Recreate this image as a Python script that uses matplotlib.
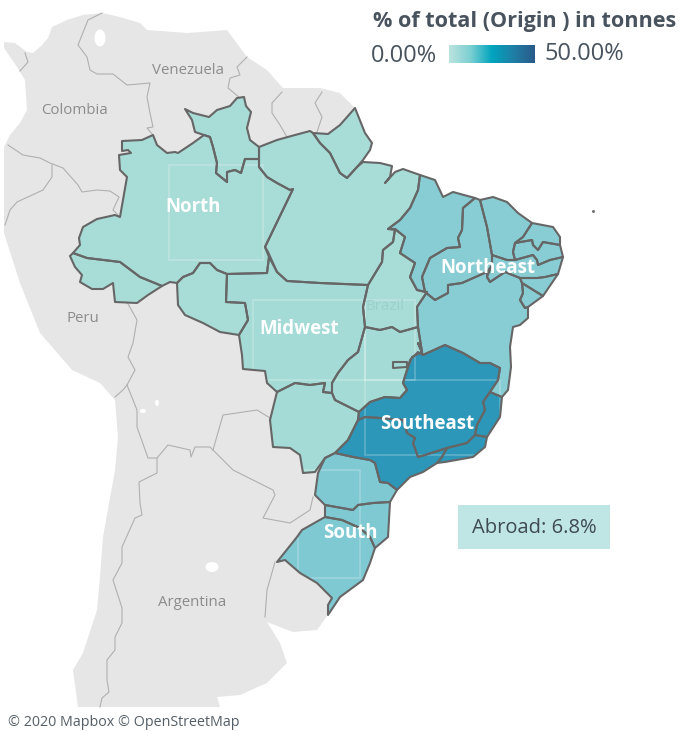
import matplotlib
matplotlib.use("Agg")
import matplotlib.pyplot as plt
from matplotlib.patches import Polygon, Rectangle, Ellipse, PathPatch
from matplotlib.path import Path
from matplotlib.colors import LinearSegmentedColormap
import numpy as np

plt.rcParams['font.family'] = ['Open Sans', 'DejaVu Sans']

# ---- data: outlines in map units (reference pixels) ----
land = [(4,42),(15,43),(27,52),(33,53),(42,45),(48,38),(52,27),(67,20),(83,15),(102,13),(120,17),(140,23),(147,30),(187,33),(227,30),(233,38),
        (247,57),(267,70),(283,88),(320,88),(340,93),(355,108),(345,150),(400,400),(330,612),(317,630),(293,632),(267,622),(280,643),(287,663),
        (267,683),(240,695),(217,697),(220,707),(78,707),(73,670),(83,653),(97,610),(100,577),(103,537),(115,470),(118,437),(115,400),(100,383),
        (72,370),(40,333),(20,283),(4,233),(4,147),(10,135),(20,123),(27,110),(25,80),(20,72),(17,67),(4,48)]
lakes = [(100,38,11,17),(143,411,6,4),(157,403,4,6),(212,567,13,10)]
borders = [
    [(102,13),(88,20),(78,45),(87,57),(90,70),(97,74),(113,74),(127,85),(150,83),(147,97),(150,113),(153,127),(147,128),(153,135)],
    [(247,57),(237,67),(240,75),(230,78),(228,88),(240,98)],
    [(282,92),(272,103),(272,113),(280,125),(287,137)],
    [(322,92),(315,103),(322,117),(317,132)],
    [(25,53),(28,62),(20,71)],
    [(8,145),(23,155),(40,158),(50,163),(63,168),(78,185),(82,192),(97,190),(110,191),(119,197),(113,210),(120,217)],
    [(52,165),(52,177),(43,190),(17,202),(10,210),(5,225)],
    [(127,302),(137,320),(133,343),(128,357),(135,370),(127,385),(123,390),(115,397)],
    [(127,385),(137,410),(137,427),(148,458),(157,458),(168,445),(190,450),(191,457),(195,447),(210,447),(213,450)],
    [(213,450),(223,415),(257,410),(270,418)],
    [(213,450),(233,470),(273,490),(275,495),(263,518),(290,523),(310,510),(313,497)],
    [(157,458),(157,473),(139,482),(140,503),(142,515),(135,518),(122,547),(122,563),(113,580),(122,608),(122,623),
     (115,637),(115,650),(107,660),(107,680),(109,692),(102,698),(100,707)],
    [(275,562),(267,590),(265,617)],
]

north_states = [
    [(185,109),(193,113),(209,117),(217,110),(230,106),(237,98),(244,97),(246,106),(251,112),(247,128),(250,140),(259,147),
     (259,159),(245,159),(241,173),(235,170),(227,172),(227,182),(216,173),(217,163),(213,147),(210,137),(204,135),(195,132),(192,120)],
    [(122,141),(142,140),(153,135),(157,145),(167,153),(175,152),(178,153),(193,143),(204,135),(210,137),(213,147),(217,163),(216,173),
     (227,182),(227,172),(235,170),(241,173),(245,159),(259,159),(259,167),(267,177),(277,183),(290,190),(293,189),(265,247),(269,257),
     (267,273),(227,274),(217,270),(210,263),(200,263),(193,273),(183,277),(177,283),(170,282),(162,286),(140,277),(120,262),(87,258),
     (73,253),(80,245),(79,238),(83,227),(97,219),(115,215),(120,217),(127,177),(120,170),(119,155),(131,153),(128,150),(122,151)],
    [(70,256),(73,253),(87,258),(120,262),(140,277),(162,286),(148,295),(137,303),(115,302),(113,283),(103,289),(92,289),(80,282),(82,275),(75,267)],
    [(177,283),(183,277),(193,273),(200,263),(210,263),(217,270),(227,274),(226,302),(245,303),(248,320),(245,325),(239,335),(220,332),(203,323),(185,315),(178,305)],
    [(313,133),(328,134),(340,125),(355,108),(365,133),(372,143),(370,150),(363,160),(357,167),(347,178),(340,173),(330,153),(320,143)],
    [(259,147),(277,140),(295,135),(310,131),(313,133),(320,143),(330,153),(340,173),(347,178),(357,167),(363,162),(380,163),(392,166),(390,177),(385,183),
     (395,172),(403,169),(420,175),(418,190),(410,208),(400,220),(388,229),(395,230),(393,242),(383,250),(382,262),(368,285),(320,283),(287,281),(277,272),
     (268,252),(265,247),(293,189),(290,190),(277,183),(267,177),(259,167)],
    [(395,229),(393,242),(383,250),(382,262),(368,285),(363,307),(365,327),(380,330),(392,327),(400,332),(418,327),(417,307),(427,292),(417,290),(410,277),(415,263),(400,253),(405,237)],
]
midwest_states = [
    [(227,274),(267,273),(269,257),(277,272),(287,281),(320,283),(368,285),(363,307),(365,327),(358,352),(348,360),(338,373),(332,383),(332,393),(323,392),(325,383),
     (310,385),(295,383),(277,392),(267,383),(265,371),(243,369),(242,355),(239,335),(245,325),(248,320),(245,303),(226,302)],
    [(365,327),(380,330),(392,327),(400,332),(418,327),(422,352),(412,357),(408,367),(403,383),(407,390),(400,398),(385,397),(370,402),(359,412),(335,400),(332,393),
     (332,383),(338,373),(348,360),(358,352)],
    [(393,362),(407,362),(407,367),(393,368)],
    [(277,392),(270,420),(273,447),(290,448),(300,455),(303,473),(315,472),(325,458),(335,453),(348,440),(358,420),(359,412),(335,400),(332,393),(323,392),(325,383),(310,385),(295,383)],
]
northeast_states = [
    [(420,175),(435,180),(443,197),(453,192),(475,198),(463,208),(462,230),(458,238),(460,247),(447,248),(430,258),(422,277),(425,292),(417,290),(410,277),(415,263),(400,253),(405,237),(395,229),(388,229),(400,220),(410,208),(418,190)],
    [(475,198),(480,200),(487,227),(492,255),(492,265),(487,272),(480,275),(462,283),(448,285),(448,293),(435,300),(425,292),(422,277),(430,258),(447,248),(460,247),(458,238),(462,230),(463,208)],
    [(480,200),(493,197),(507,202),(518,213),(532,223),(523,237),(515,243),(513,252),(515,260),(507,260),(492,255),(487,227)],
    [(532,223),(553,227),(560,237),(560,245),(543,242),(538,250),(533,245),(532,240),(515,243),(523,237)],
    [(515,243),(532,240),(533,245),(538,250),(543,242),(560,245),(563,257),(550,260),(538,265),(537,260),(533,255),(515,260),(513,252)],
    [(492,255),(507,260),(515,260),(533,255),(537,260),(538,265),(550,260),(563,257),(558,274),(545,277),(537,278),(520,278),(505,272),(490,282),(487,277),(492,265)],
    [(520,278),(537,278),(545,277),(558,274),(543,296),(522,283)],
    [(522,283),(543,296),(528,307),(525,308),(520,300),(523,293)],
    [(425,292),(435,300),(448,293),(448,285),(462,283),(480,275),(487,272),(487,277),(490,282),(505,272),(520,278),(522,283),(523,293),(520,300),(525,308),(528,307),(528,318),(520,325),(513,327),(510,347),(511,367),(508,390),(502,397),
     (490,392),(498,380),(500,368),(490,363),(480,363),(463,353),(445,345),(423,355),(418,343),(422,352),(418,327),(417,307),(427,292)],
]
southeast_states = [
    [(423,355),(445,345),(463,353),(480,363),(490,363),(500,368),(498,380),(490,392),(483,402),(485,410),(477,425),(475,435),(467,443),(447,448),(425,455),(418,457),(413,443),(415,438),(407,433),(403,420),(380,418),(365,417),(358,420),(359,412),(370,402),(385,397),(400,398),(407,390),(403,383),(407,370),(410,360),(418,352)],
    [(490,392),(502,397),(500,417),(487,437),(475,435),(477,425),(485,410),(483,402)],
    [(475,435),(487,437),(485,447),(473,457),(445,462),(437,463),(442,457),(447,448),(467,443)],
    [(358,420),(365,417),(380,418),(403,420),(407,433),(415,438),(413,443),(418,457),(425,455),(447,448),(442,457),(437,463),(423,472),(410,477),(397,490),(388,483),(380,482),(375,463),(370,460),(353,457),(335,453),(348,440)],
]
south_states = [
    [(335,453),(325,458),(318,473),(315,495),(325,505),(353,510),(358,505),(373,503),(390,502),(397,490),(388,483),(380,482),(375,463),(370,460),(353,457)],
    [(325,505),(353,510),(358,505),(373,503),(390,502),(388,537),(375,548),(370,537),(360,528),(342,520),(325,517)],
    [(277,562),(297,537),(302,530),(325,517),(342,520),(360,528),(370,537),(375,548),(370,563),(363,580),(340,597),(328,615),(328,605),(332,598),(317,583),(300,573),(285,560)],
]

regions = ['North', 'Midwest', 'Northeast', 'Southeast', 'South']
region_shapes = [north_states, midwest_states, northeast_states, southeast_states, south_states]
region_colors = ['#A8DCD7', '#A5DBD6', '#88CDD3', '#2C97B8', '#7FC9D3']
label_positions = [(193,207),(299,329),(488,268),(427,424),(350,533)]
country_names = ['Venezuela','Colombia','Peru','Brazil','Argentina']
country_positions = [(188,70),(74,110),(83,319),(385,307),(192,602)]
legend_colors = ['#BCE4DF','#7CCFD2','#00A5BE','#1F7FA6','#2A5A8A']
tile_seams = [(169,165,94,95),(253,300,112,80),(365,300,50,80),(365,380,135,75),(298,470,62,108)]

TEXT = '#48535E'
fig = plt.figure(figsize=(6.79, 7.31), dpi=100)
ax = fig.add_axes([0, 0, 1, 1])
ax.set_xlim(0, 679); ax.set_ylim(731, 0); ax.axis('off')

ax.add_patch(Polygon(land, closed=True, fc='#E6E6E6', ec='none', zorder=1))
for x, y, w, h in lakes:
    ax.add_patch(Ellipse((x, y), w, h, fc='white', ec='none', zorder=1.2))
for b in borders:
    xs, ys = zip(*b)
    ax.plot(xs, ys, color='#B0B0B0', lw=0.8, zorder=1.5)
for name, (x, y) in zip(country_names, country_positions):
    ax.text(x, y, name, color='#8C8C8C' if name != 'Brazil' else '#9CCFCB', fontsize=10.8, ha='center', va='center', zorder=5)

for shapes, col in zip(region_shapes, region_colors):
    for s in shapes:
        ax.add_patch(Polygon(s, closed=True, fc=col, ec='none', zorder=2))

verts, codes = [], []
for shapes in region_shapes:
    for s in shapes:
        verts += list(s) + [s[0]]
        codes += [Path.MOVETO] + [Path.LINETO] * (len(s) - 1) + [Path.CLOSEPOLY]
clip = PathPatch(Path(verts, codes), fc='none', ec='none', transform=ax.transData)
ax.add_patch(clip)
for x, y, w, h in tile_seams:
    seam = Rectangle((x, y), w, h, fc='none', ec='white', alpha=0.22, lw=1.3, zorder=2.5)
    ax.add_patch(seam)
    seam.set_clip_path(clip)

for shapes in region_shapes:
    for s in shapes:
        ax.add_patch(Polygon(s, closed=True, fc='none', ec='#666666', lw=1.5, joinstyle='round', zorder=3))

for name, (x, y) in zip(regions, label_positions):
    ax.text(x, y, name, color='white', fontsize=13.4, fontweight='bold', ha='center', va='center', zorder=6)

ax.text(676, 22, '% of total (Origin ) in tonnes', color=TEXT, fontsize=15.6, fontweight='bold', ha='right', va='center')
ax.text(371, 56, '0.00%', color=TEXT, fontsize=17, ha='left', va='center')
ax.text(544, 54, '50.00%', color=TEXT, fontsize=17, ha='left', va='center')
cmap = LinearSegmentedColormap.from_list('legend', legend_colors)
ax.imshow(np.linspace(0, 1, 256)[None, :], cmap=cmap, extent=(449, 535, 63, 45), aspect='auto', zorder=4)
ax.set_xlim(0, 679); ax.set_ylim(731, 0)

ax.add_patch(Rectangle((458, 505), 152, 44, fc='#BFE5E4', ec='none', zorder=4))
ax.text(534, 528, 'Abroad: 6.8%', color='#3F4A55', fontsize=14.5, fontweight='medium', ha='center', va='center', zorder=5)
ax.text(8, 723, '© 2020 Mapbox © OpenStreetMap', color='#555E66', fontsize=10.3, ha='left', va='center')
ax.plot([593], [211], marker='o', ms=1.2, color='#777777')

fig.savefig('out.png', dpi=100)
